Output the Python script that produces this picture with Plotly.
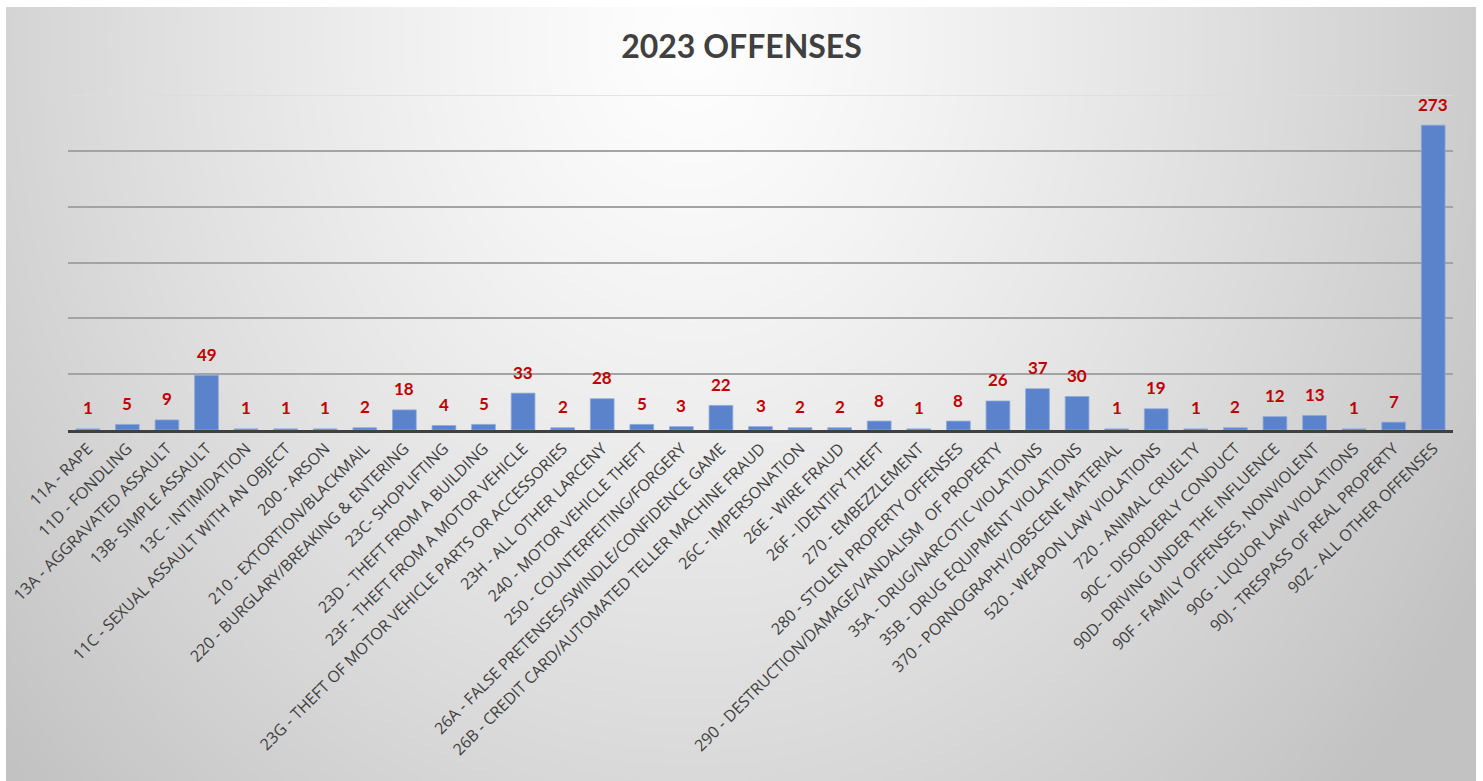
import base64
import struct
import zlib

import numpy as np
import plotly.graph_objects as go

categories = [
    "11A - RAPE",
    "11D - FONDLING",
    "13A - AGGRAVATED ASSAULT",
    "13B- SIMPLE ASSAULT",
    "13C - INTIMIDATION",
    "11C - SEXUAL ASSAULT WITH AN OBJECT",
    "200 - ARSON",
    "210 - EXTORTION/BLACKMAIL",
    "220 - BURGLARY/BREAKING & ENTERING",
    "23C- SHOPLIFTING",
    "23D - THEFT FROM A BUILDING",
    "23F - THEFT FROM A MOTOR VEHICLE",
    "23G - THEFT OF MOTOR VEHICLE PARTS OR ACCESSORIES",
    "23H - ALL OTHER LARCENY",
    "240 - MOTOR VEHICLE THEFT",
    "250 - COUNTERFEITING/FORGERY",
    "26A - FALSE PRETENSES/SWINDLE/CONFIDENCE GAME",
    "26B - CREDIT CARD/AUTOMATED TELLER MACHINE FRAUD",
    "26C - IMPERSONATION",
    "26E - WIRE FRAUD",
    "26F - IDENTIFY THEFT",
    "270 - EMBEZZLEMENT",
    "280 - STOLEN PROPERTY OFFENSES",
    "290 - DESTRUCTION/DAMAGE/VANDALISM  OF PROPERTY",
    "35A - DRUG/NARCOTIC VIOLATIONS",
    "35B - DRUG EQUIPMENT VIOLATIONS",
    "370 - PORNOGRAPHY/OBSCENE MATERIAL",
    "520 - WEAPON LAW VIOLATIONS",
    "720 - ANIMAL CRUELTY",
    "90C - DISORDERLY CONDUCT",
    "90D- DRIVING UNDER THE INFLUENCE",
    "90F - FAMILY OFFENSES, NONVIOLENT",
    "90G - LIQUOR LAW VIOLATIONS",
    "90J - TRESPASS OF REAL PROPERTY",
    "90Z - ALL OTHER OFFENSES",
]
values = [1, 5, 9, 49, 1, 1, 1, 2, 18, 4, 5, 33, 2, 28, 5, 3, 22, 3, 2, 2, 8,
          1, 8, 26, 37, 30, 1, 19, 1, 2, 12, 13, 1, 7, 273]
title_text = "2023 OFFENSES"
grid_vals = [0, 50, 100, 150, 200, 250, 300]

# ---------- background radial gradient (style only) ----------
FW, FH = 1483, 781
ML, MR, MT, MB = 68, 30, 95, 351
PW, PH = FW - ML - MR, FH - MT - MB
BX0, BY0, BX1, BY1 = 6, 7, 1476, 781
iw, ih = (BX1 - BX0) // 2, (BY1 - BY0) // 2
yy, xx = np.mgrid[0:ih, 0:iw].astype(float)
px = BX0 + xx * 2
py = BY0 + yy * 2
r = np.sqrt(((px - 690) / 800.0) ** 2 + ((py - 40) / 950.0) ** 2)
r = np.clip(r, 0, 1.15)
val = 254 - 60 * (r / 1.15) ** 1.25
img = np.clip(val, 0, 255).astype(np.uint8)


def png_bytes(a):
    h, w = a.shape
    raw = b"".join(b"\x00" + a[i].tobytes() for i in range(h))

    def chunk(t, d):
        c = struct.pack(">I", len(d)) + t + d
        return c + struct.pack(">I", zlib.crc32(t + d) & 0xFFFFFFFF)

    return (b"\x89PNG\r\n\x1a\n" + chunk(b"IHDR", struct.pack(">IIBBBBB", w, h, 8, 0, 0, 0, 0))
            + chunk(b"IDAT", zlib.compress(raw, 9)) + chunk(b"IEND", b""))


bg_src = "data:image/png;base64," + base64.b64encode(png_bytes(img)).decode()

fig = go.Figure()
fig.add_trace(go.Bar(
    x=categories, y=values,
    marker=dict(color="#5a83cb", line=dict(color="#8eaadb", width=0.8)),
    width=0.6,
    hoverinfo="x+y",
))

for c, v in zip(categories, values):
    fig.add_annotation(
        x=c, y=v, text=f"<b>{v}</b>", showarrow=False,
        yshift=21, yanchor="middle",
        font=dict(family="Lato, Open Sans, sans-serif", size=17, color="#c00000"),
    )

# lighter top gridline
fig.add_shape(type="line", xref="paper", x0=0, x1=1, yref="y", y0=grid_vals[-1], y1=grid_vals[-1],
              line=dict(color="#dcdcdc", width=1.5), layer="below")

fig.add_layout_image(dict(
    source=bg_src, xref="paper", yref="paper",
    x=(BX0 - ML) / PW, y=(FH - MB - BY0) / PH,
    sizex=(BX1 - BX0) / PW, sizey=(BY1 - BY0) / PH,
    xanchor="left", yanchor="top", sizing="stretch", layer="below",
))

fig.update_layout(
    width=FW, height=FH,
    margin=dict(l=ML, r=MR, t=MT, b=MB, autoexpand=False),
    paper_bgcolor="white",
    plot_bgcolor="rgba(0,0,0,0)",
    showlegend=False,
    title=dict(text=f"<b>{title_text}</b>", x=0.5, xanchor="center", y=1 - 47 / FH, yanchor="middle",
               font=dict(family="Lato, Open Sans, sans-serif", size=32, color="#404040")),
    bargap=0.4,
    xaxis=dict(
        type="category", tickangle=-45, showgrid=False,
        showline=True, linecolor="#404040", linewidth=3,
        ticks="", automargin=False,
        tickfont=dict(family="Open Sans, sans-serif", size=16, color="#404040"),
    ),
    yaxis=dict(
        range=[0, 300], tickvals=grid_vals[1:-1], showticklabels=False,
        showgrid=True, gridcolor="#a3a3a3", gridwidth=1.5,
        zeroline=False, showline=False, ticks="", automargin=False,
    ),
)

fig.write_html(
    "out.html",
    config={"displayModeBar": False},
    post_script="document.body.style.margin='0px';document.body.style.overflow='hidden';",
)
